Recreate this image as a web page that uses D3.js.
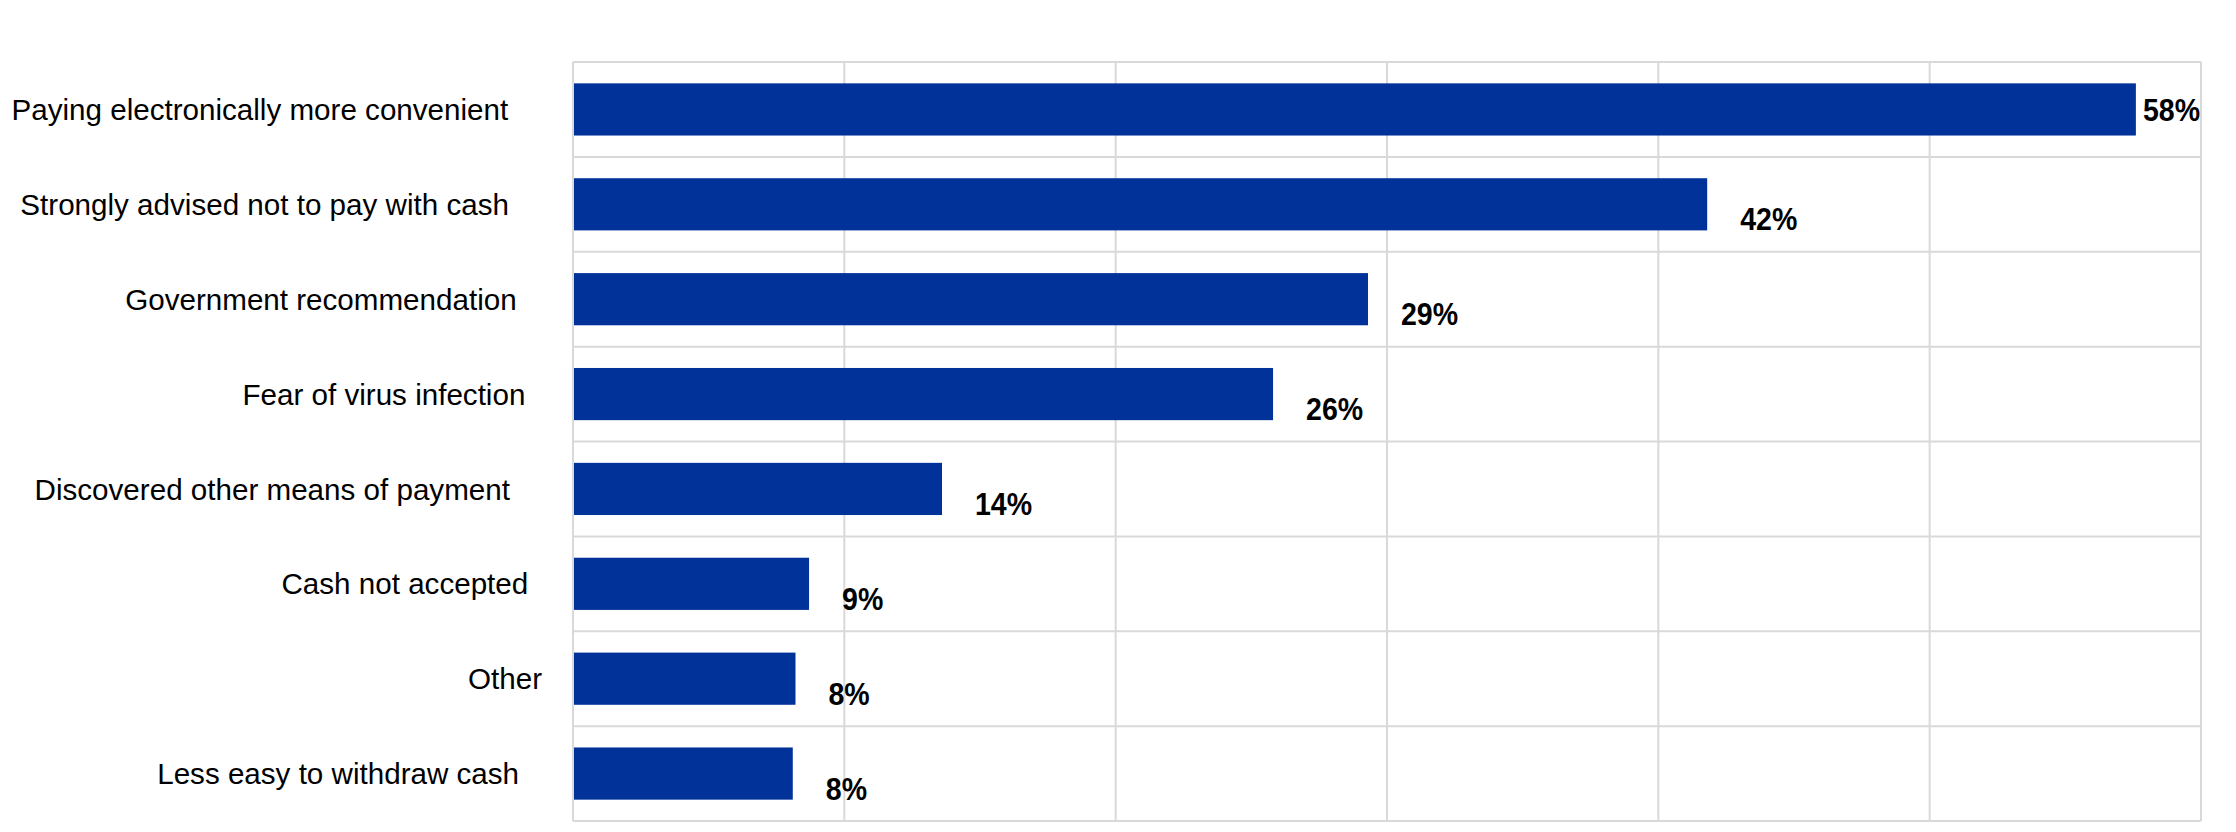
<!DOCTYPE html>
<html>
<head>
<meta charset="utf-8">
<script src="https://cdn.jsdelivr.net/npm/d3@7"></script>
<style>
  html, body { margin: 0; padding: 0; background: #ffffff; }
  svg { display: block; }
</style>
</head>
<body>
<svg id="chart" width="2236" height="832"></svg>
<script>
// ---- Data ----
const categories = [
  "Paying electronically more convenient",
  "Strongly advised not to pay with cash",
  "Government recommendation",
  "Fear of virus infection",
  "Discovered other means of payment",
  "Cash not accepted",
  "Other",
  "Less easy to withdraw cash"
];
const values = [57.6, 41.8, 29.3, 25.8, 13.6, 8.7, 8.2, 8.1];
const xDomain = [0, 60];
const xTicks = [0, 10, 20, 30, 40, 50, 60];

// ---- Layout ----
const W = 2236, H = 832;
const plot = { left: 573, right: 2201, top: 62, bottom: 821 };
const barColor = "#003299";
const gridColor = "#d9d9d9";
const catFont = 29.6, valFont = 31;

const svg = d3.select("#chart");
svg.append("rect").attr("width", W).attr("height", H).attr("fill", "#ffffff");

const x = d3.scaleLinear().domain(xDomain).range([plot.left, plot.right]);
const y = d3.scaleBand().domain(categories).range([plot.top, plot.bottom])
  .paddingInner(0.45).paddingOuter(0.225);
const step = y.step();

// vertical gridlines
svg.append("g").selectAll("line").data(xTicks).join("line")
  .attr("x1", d => x(d)).attr("x2", d => x(d))
  .attr("y1", plot.top).attr("y2", plot.bottom)
  .attr("stroke", gridColor).attr("stroke-width", 2);

// horizontal gridlines
const hLines = d3.range(categories.length + 1).map(i => plot.top + i * step);
svg.append("g").selectAll("line").data(hLines).join("line")
  .attr("x1", plot.left).attr("x2", plot.right)
  .attr("y1", d => d).attr("y2", d => d)
  .attr("stroke", gridColor).attr("stroke-width", 2);

// bars
const data = categories.map((c, i) => ({ c, v: values[i] }));
svg.append("g").selectAll("rect").data(data).join("rect")
  .attr("x", x(0) + 1)
  .attr("y", d => y(d.c))
  .attr("width", d => x(d.v) - x(0) - 1)
  .attr("height", y.bandwidth())
  .attr("fill", barColor);

// category labels (Excel-like anchoring: longer labels end slightly further left)
const cl = svg.append("g").selectAll("text").data(categories).join("text")
  .attr("y", d => y(d) + y.bandwidth() / 2)
  .attr("dy", "0.36em")
  .attr("text-anchor", "end")
  .attr("font-family", "'Liberation Sans', Arial, sans-serif")
  .attr("font-size", catFont)
  .attr("fill", "#000000")
  .text(d => d);
cl.each(function() {
  const w = this.getComputedTextLength();
  d3.select(this).attr("x", 548 - 0.08 * w);
});

// value labels
const fmt = d => d3.format(".0f")(d) + "%";
const vl = svg.append("g").selectAll("text").data(data).join("text")
  .attr("font-family", "'Liberation Sans', Arial, sans-serif")
  .attr("font-size", valFont)
  .attr("font-weight", "bold")
  .attr("fill", "#000000")
  .text(d => fmt(d.v));

vl.each(function(d) {
  const t = d3.select(this);
  const w = this.getComputedTextLength() * 0.92;
  t.attr("textLength", w).attr("lengthAdjust", "spacingAndGlyphs");
  let tx = x(d.v) + 33;
  let ty = y(d.c) + y.bandwidth();
  if (tx + w > plot.right) {
    tx = plot.right - w - 1;
    ty = y(d.c) + y.bandwidth() / 2 + 0.36 * valFont;
  }
  t.attr("x", tx).attr("y", ty);
});
</script>
</body>
</html>
